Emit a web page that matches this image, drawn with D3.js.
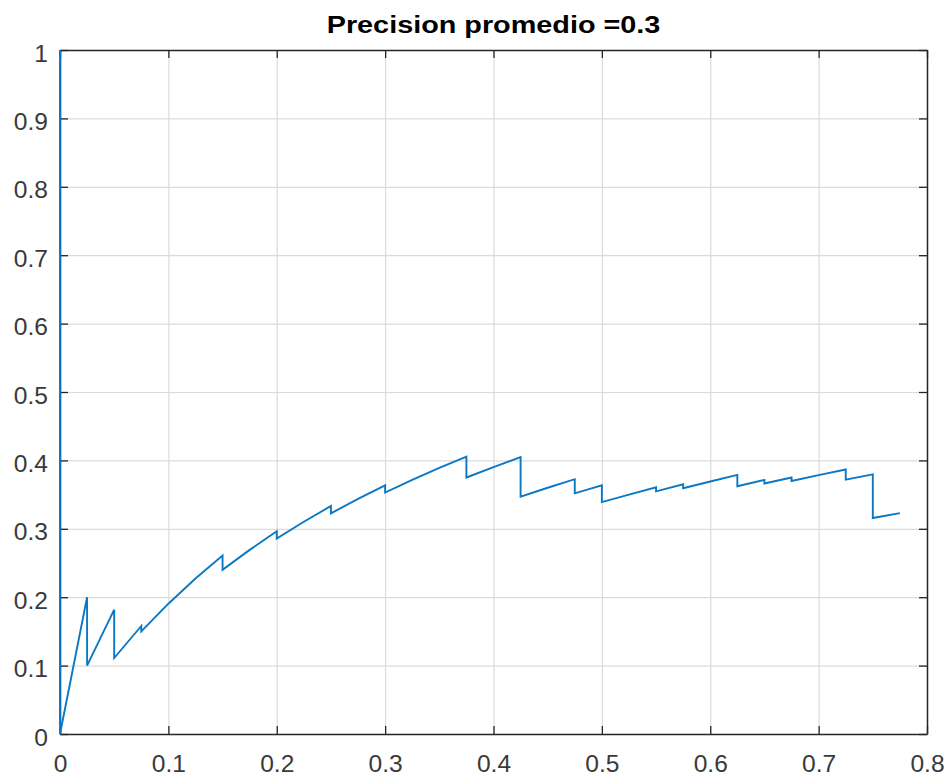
<!DOCTYPE html>
<html>
<head>
<meta charset="utf-8">
<script src="https://cdn.jsdelivr.net/npm/d3@7"></script>
<style>
  html, body { margin: 0; padding: 0; background: #fff; }
  svg { display: block; }
</style>
</head>
<body>
<svg id="chart" width="950" height="781"></svg>
<script>
// Precision-recall curve: one vertex per corner (rise on a hit, vertical drop on misses)
const recall = [
  0, 0,
  0.025, 0.025,
  0.05, 0.05,
  0.075, 0.075,
  0.1, 0.125, 0.15, 0.15,
  0.175, 0.2, 0.2,
  0.225, 0.25, 0.25,
  0.275, 0.3, 0.3,
  0.325, 0.35, 0.375, 0.375,
  0.4, 0.425, 0.425,
  0.45, 0.475, 0.475,
  0.5, 0.5,
  0.525, 0.55, 0.55,
  0.575, 0.575,
  0.6, 0.625, 0.625,
  0.65, 0.65,
  0.675, 0.675,
  0.7, 0.725, 0.725,
  0.75, 0.75,
  0.775
];
const precision = [
  1, 0,
  0.2, 0.1,
  0.1818, 0.1111,
  0.1579, 0.15,
  0.1905, 0.2273, 0.2609, 0.24,
  0.2692, 0.2963, 0.2857,
  0.3103, 0.3333, 0.3226,
  0.3438, 0.3636, 0.3529,
  0.3714, 0.3889, 0.4054, 0.375,
  0.3902, 0.4048, 0.3469,
  0.36, 0.3725, 0.3519,
  0.3636, 0.339,
  0.35, 0.3607, 0.3548,
  0.3651, 0.3594,
  0.3692, 0.3788, 0.3623,
  0.3714, 0.3662,
  0.375, 0.3699,
  0.3784, 0.3867, 0.3718,
  0.3797, 0.3158,
  0.3229
];

const xTicks = [0, 0.1, 0.2, 0.3, 0.4, 0.5, 0.6, 0.7, 0.8];
const xTickLabels = ["0", "0.1", "0.2", "0.3", "0.4", "0.5", "0.6", "0.7", "0.8"];
const yTicks = [0, 0.1, 0.2, 0.3, 0.4, 0.5, 0.6, 0.7, 0.8, 0.9, 1];
const yTickLabels = ["0", "0.1", "0.2", "0.3", "0.4", "0.5", "0.6", "0.7", "0.8", "0.9", "1"];
const titleText = "Precision promedio =0.3";

const plot = { left: 60, right: 927, top: 50, bottom: 734 };
const axisColor = "#262626";
const labelColor = "#3a3a3a";
const gridColor = "#dbdbdb";
const lineColor = "#0a78c4";
const tickLen = 8;
const labelFont = "'Liberation Sans', Arial, Helvetica, sans-serif";
const labelSize = 23;
const labelStretch = 1.07;
const titleSize = 24;
const titleStretch = 1.2;

const svg = d3.select("#chart");

const x = d3.scaleLinear().domain([0, 0.8]).range([plot.left, plot.right]);
const y = d3.scaleLinear().domain([0, 1]).range([plot.bottom, plot.top]);
const innerW = plot.right - plot.left;
const innerH = plot.bottom - plot.top;

// Grid lines
const gridX = svg.append("g")
  .attr("transform", `translate(0,${plot.bottom})`)
  .call(d3.axisBottom(x).tickValues(xTicks).tickSize(-innerH).tickFormat(""));
const gridY = svg.append("g")
  .attr("transform", `translate(${plot.left},0)`)
  .call(d3.axisLeft(y).tickValues(yTicks).tickSize(-innerW).tickFormat(""));
[gridX, gridY].forEach(g => {
  g.select(".domain").remove();
  g.selectAll(".tick line").attr("stroke", gridColor).attr("stroke-width", 1.2);
});

// Box axes with inward ticks on all four sides
const axBottom = svg.append("g")
  .attr("transform", `translate(0,${plot.bottom})`)
  .call(d3.axisBottom(x).tickValues(xTicks).tickSize(-tickLen).tickSizeOuter(0)
    .tickFormat((d, i) => xTickLabels[i]));
const axTop = svg.append("g")
  .attr("transform", `translate(0,${plot.top})`)
  .call(d3.axisTop(x).tickValues(xTicks).tickSize(-tickLen).tickSizeOuter(0).tickFormat(""));
const axLeft = svg.append("g")
  .attr("transform", `translate(${plot.left},0)`)
  .call(d3.axisLeft(y).tickValues(yTicks).tickSize(-tickLen).tickSizeOuter(0)
    .tickFormat((d, i) => yTickLabels[i]));
const axRight = svg.append("g")
  .attr("transform", `translate(${plot.right},0)`)
  .call(d3.axisRight(y).tickValues(yTicks).tickSize(-tickLen).tickSizeOuter(0).tickFormat(""));

[axBottom, axTop, axLeft, axRight].forEach(g => {
  g.select(".domain").attr("stroke", axisColor).attr("stroke-width", 1.5);
  g.selectAll(".tick line").attr("stroke", axisColor).attr("stroke-width", 1.3);
});

axBottom.selectAll(".tick text")
  .attr("y", 38).attr("dy", null)
  .attr("transform", `scale(${labelStretch},1)`)
  .attr("font-family", labelFont).attr("font-size", labelSize)
  .attr("fill", labelColor);

axLeft.selectAll(".tick text")
  .attr("x", -12 / labelStretch).attr("dy", null).attr("y", 11)
  .attr("transform", `scale(${labelStretch},1)`)
  .attr("font-family", labelFont).attr("font-size", labelSize)
  .attr("fill", labelColor);

// Curve
const pts = recall.map((r, i) => [r, precision[i]]);
svg.append("path")
  .datum(pts)
  .attr("fill", "none")
  .attr("stroke", lineColor)
  .attr("stroke-width", 1.9)
  .attr("stroke-linejoin", "miter")
  .attr("d", d3.line().x(d => x(d[0])).y(d => y(d[1])));

// Title
svg.append("text")
  .attr("transform", `translate(${(plot.left + plot.right) / 2},33) scale(${titleStretch},1)`)
  .attr("text-anchor", "middle")
  .attr("font-family", labelFont)
  .attr("font-weight", "bold")
  .attr("font-size", titleSize)
  .attr("fill", "#000")
  .text(titleText);
</script>
</body>
</html>
